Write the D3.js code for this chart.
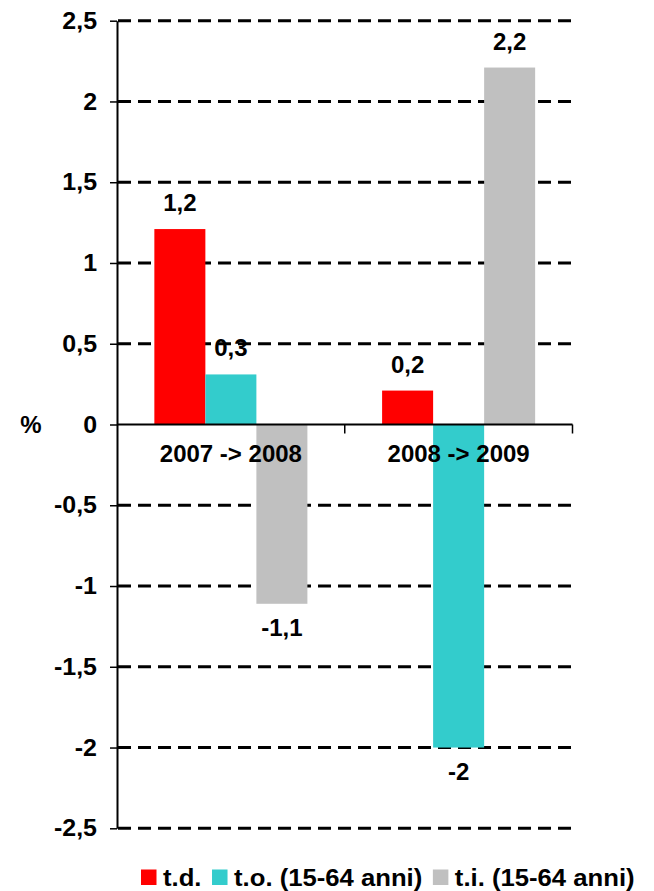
<!DOCTYPE html>
<html>
<head>
<meta charset="utf-8">
<script src="https://cdn.jsdelivr.net/npm/d3@7"></script>
<style>
  body { margin: 0; background: #fff; }
  svg text { font-family: "Liberation Sans", Arial, sans-serif; font-weight: bold; fill: #000; }
</style>
</head>
<body>
<svg id="chart" width="654" height="891"></svg>
<script>
// --- DATA ---
const categories = ["2007 -> 2008", "2008 -> 2009"];
const series = ["t.d.", "t.o. (15-64 anni)", "t.i. (15-64 anni)"];
const colors = ["#FF0000", "#33CCCC", "#C0C0C0"];
// one row per category, one value per series
const values = [
    [1.21, 0.31, -1.11],
    [0.21, -2.0, 2.21]
];
const yTicks = [-2.5, -2, -1.5, -1, -0.5, 0, 0.5, 1, 1.5, 2, 2.5];

// --- SETUP ---
const W = 654, H = 891;
const margin = { top: 20.7, right: 81.5, bottom: 62.7, left: 117 };
const svg = d3.select("#chart");

const locale = d3.formatLocale({ decimal: ",", thousands: ".", grouping: [3], currency: ["", "€"], minus: "-" });
const fmt = locale.format(".1~f");

// text in the reference is a bit wider than Arial, stretch it horizontally
function stretch(sel, k) {
    sel.each(function() {
        const t = d3.select(this);
        const x = +t.attr("x") || 0, yy = +t.attr("y") || 0;
        t.attr("x", 0).attr("y", 0).attr("transform", `translate(${x},${yy}) scale(${k},1)`);
    });
}

const y = d3.scaleLinear().domain([-2.5, 2.5]).range([H - margin.bottom, margin.top]);
const x0 = d3.scaleBand().domain(categories)
    .range([margin.left, W - margin.right])
    .paddingInner(0.328).paddingOuter(0.164);
const x1 = d3.scaleBand().domain(series).range([0, x0.bandwidth()]).padding(0);

// --- GRID ---
svg.append("g").selectAll("line.grid")
    .data(yTicks.filter(d => d !== 0)).join("line")
    .attr("class", "grid")
    .attr("x1", margin.left + 1).attr("x2", W - margin.right)
    .attr("y1", d => y(d)).attr("y2", d => y(d))
    .attr("stroke", "#000").attr("stroke-width", 3)
    .attr("stroke-dasharray", "13 7");

// --- BARS ---
const groups = svg.append("g").selectAll("g.group")
    .data(values.map((row, i) => ({ cat: categories[i], row }))).join("g")
    .attr("class", "group")
    .attr("transform", d => `translate(${x0(d.cat)},0)`);

groups.selectAll("rect")
    .data(d => d.row.map((v, j) => ({ key: series[j], v, j }))).join("rect")
    .attr("x", d => x1(d.key))
    .attr("width", x1.bandwidth())
    .attr("y", d => y(Math.max(0, d.v)))
    .attr("height", d => Math.abs(y(d.v) - y(0)))
    .attr("fill", d => colors[d.j]);

groups.selectAll("text.val")
    .data(d => d.row.map((v, j) => ({ key: series[j], v }))).join("text")
    .attr("class", "val")
    .attr("x", d => x1(d.key) + x1.bandwidth() / 2)
    .attr("y", d => d.v >= 0 ? y(d.v) - 18 : y(d.v) + 32)
    .attr("text-anchor", "middle")
    .style("font-size", "24px")
    .text(d => fmt(d.v));

// --- AXES ---
const yAxis = svg.append("g")
    .attr("transform", `translate(${margin.left},0)`)
    .call(d3.axisLeft(y).tickValues(yTicks).tickFormat(fmt).tickSize(7).tickSizeOuter(0).tickPadding(13));
yAxis.select(".domain").attr("stroke", "#000").attr("stroke-width", 2);
yAxis.selectAll(".tick line").attr("stroke", "#000").attr("stroke-width", 1.5);
yAxis.selectAll(".tick text")
    .style("font-size", "24px")
    .style("font-family", "'Liberation Sans', Arial, sans-serif")
    .style("font-weight", "bold")
    .call(stretch, 1.04);

// zero line with category ticks
svg.append("line")
    .attr("x1", margin.left).attr("x2", W - margin.right)
    .attr("y1", y(0)).attr("y2", y(0))
    .attr("stroke", "#000").attr("stroke-width", 2);

const sep = [x0(categories[1]) - x0.step() * x0.paddingInner() / 2, W - margin.right];
svg.selectAll("line.sep").data(sep).join("line")
    .attr("class", "sep")
    .attr("x1", d => d).attr("x2", d => d)
    .attr("y1", y(0)).attr("y2", y(0) + 9)
    .attr("stroke", "#000").attr("stroke-width", 1.5);

svg.selectAll("text.cat").data(categories).join("text")
    .attr("class", "cat")
    .attr("x", d => x0(d) + x0.bandwidth() / 2)
    .attr("y", y(0) + 37)
    .attr("text-anchor", "middle")
    .style("font-size", "24px")
    .text(d => d);

svg.append("text")
    .attr("x", 31).attr("y", y(0) + 8)
    .attr("text-anchor", "middle")
    .style("font-size", "24px")
    .text("%");

// --- LEGEND ---
const legStretch = 1.07;
const legend = svg.append("g").attr("transform", "translate(141,0)");
let lx = 0;
series.forEach((s, i) => {
    legend.append("rect")
        .attr("x", lx).attr("y", 869.5)
        .attr("width", 15.5).attr("height", 15.5)
        .attr("fill", colors[i]);
    const t = legend.append("text")
        .attr("x", lx + 22).attr("y", 885.5)
        .style("font-size", "24px")
        .text(s);
    const len = t.node().getComputedTextLength() * legStretch;
    t.call(stretch, legStretch);
    lx += 22 + len + 10.5;
});
</script>
</body>
</html>
